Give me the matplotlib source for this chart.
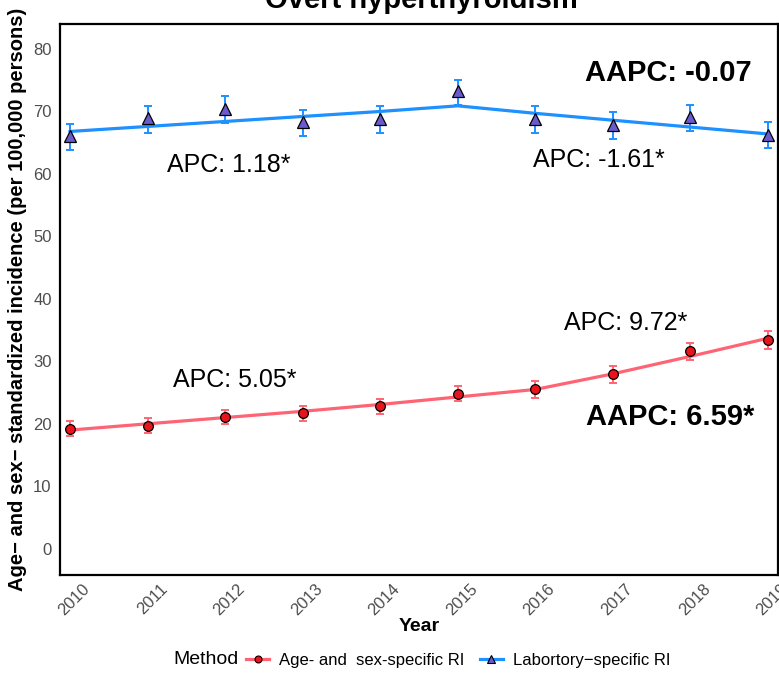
import matplotlib
matplotlib.use("Agg")
import matplotlib.pyplot as plt
import matplotlib.transforms as mtransforms
from matplotlib.lines import Line2D

plt.rcParams['font.family'] = ['Liberation Sans', 'DejaVu Sans']

years = [2010, 2011, 2012, 2013, 2014, 2015, 2016, 2017, 2018, 2019]

# Age- and sex-specific RI
ags_obs = [19.2, 19.7, 21.1, 21.7, 22.8, 24.7, 25.5, 27.9, 31.6, 33.4]
ags_lo = [18.1, 18.6, 19.9, 20.5, 21.6, 23.6, 24.2, 26.6, 30.2, 32.0]
ags_hi = [20.4, 20.9, 22.2, 22.9, 24.0, 26.0, 26.8, 29.3, 32.9, 34.9]
ags_fit = [19.0, 20.0, 21.0, 22.0, 23.1, 24.3, 25.5, 28.0, 30.8, 33.7]

# Laboratory-specific RI
lab_obs = [66.0, 69.0, 70.35, 68.3, 68.8, 73.2, 68.8, 67.8, 69.1, 66.3]
lab_lo = [63.8, 66.6, 68.1, 66.0, 66.6, 71.0, 66.5, 65.6, 66.8, 64.1]
lab_hi = [68.0, 70.9, 72.4, 70.2, 70.8, 75.1, 70.8, 69.9, 71.0, 68.3]
lab_fit = [66.8, 67.6, 68.4, 69.2, 70.0, 70.9, 69.7, 68.6, 67.5, 66.4]

yticks = [0, 10, 20, 30, 40, 50, 60, 70, 80]

RED_LINE = '#FF6474'
RED_PT = '#E8141C'
BLUE_LINE = '#1E90FF'
BLUE_PT = '#6A5ACD'

fig = plt.figure(figsize=(7.79, 6.76), dpi=100)
ax = fig.add_axes([60/779, 1-575/676, 718/779, (575-24)/676])

def draw(obs, lo, hi, fit, lc, pc, marker, ms):
    yerr = [[o - l for o, l in zip(obs, lo)], [h - o for o, h in zip(obs, hi)]]
    ax.errorbar(years, obs, yerr=yerr, fmt='none', ecolor=lc, elinewidth=1.4,
                capsize=3.2, capthick=1.4, zorder=2)
    ax.plot(years, fit, color=lc, lw=2.3, zorder=3)
    ax.plot(years, obs, linestyle='none', marker=marker, ms=ms, mfc=pc,
            mec='black', mew=0.9, zorder=4)

draw(ags_obs, ags_lo, ags_hi, ags_fit, RED_LINE, RED_PT, 'o', 7)
draw(lab_obs, lab_lo, lab_hi, lab_fit, BLUE_LINE, BLUE_PT, '^', 8)

ax.set_xlim(2009.871, 2019.129)
ax.set_ylim(-4.2, 84)
ax.set_xticks(years)
ax.set_xticklabels([str(y) for y in years], rotation=45, ha='right',
                   rotation_mode='anchor')
ax.set_yticks(yticks)
ax.tick_params(length=0, labelsize=12, colors='#4D4D4D', pad=6)
ax.tick_params(axis='x', pad=8)
offset = mtransforms.ScaledTranslation(12/100, 5/100, fig.dpi_scale_trans)
for lab in ax.get_xticklabels():
    lab.set_transform(lab.get_transform() + offset)
for s in ax.spines.values():
    s.set_linewidth(1.6)
    s.set_color('black')

ax.set_xlabel('Year', fontsize=14, fontweight='bold', labelpad=0)
ax.set_ylabel('Age\u2212 and sex\u2212 standardized incidence (per 100,000 persons)',
              fontsize=14.5, fontweight='bold', labelpad=4)

ax.text(2012.05, 61.5, 'APC: 1.18*', fontsize=18, ha='center', va='center')
ax.text(2016.82, 62.3, 'APC: -1.61*', fontsize=18, ha='center', va='center')
ax.text(2012.12, 27.0, 'APC: 5.05*', fontsize=18, ha='center', va='center')
ax.text(2017.17, 36.1, 'APC: 9.72*', fontsize=18, ha='center', va='center')
ax.text(2017.71, 76.2, 'AAPC: -0.07', fontsize=21, fontweight='bold', ha='center', va='center')
ax.text(2017.74, 21.1, 'AAPC: 6.59*', fontsize=21, fontweight='bold', ha='center', va='center')

fig.text(421/779, 1-8/676, 'Overt hyperthyroidism', fontsize=21, fontweight='bold',
         ha='center', va='baseline')

handles = [
    Line2D([], [], color=RED_LINE, lw=2.3, marker='o', ms=5, mfc=RED_PT, mec='black', mew=0.8),
    Line2D([], [], color=BLUE_LINE, lw=2.3, marker='^', ms=6, mfc=BLUE_PT, mec='black', mew=0.8),
]
labels = ['Age- and  sex-specific RI', 'Labortory\u2212specific RI']
fig.text(173/779, 1-660/676, 'Method', fontsize=14, va='center', ha='left')
fig.legend(handles, labels, loc='center left', bbox_to_anchor=(246/779, 1-660/676),
           ncol=2, frameon=False, fontsize=12, handlelength=1.4, handletextpad=0.6,
           columnspacing=0.9, borderpad=0, borderaxespad=0)

fig.savefig('out.png', dpi=100)
